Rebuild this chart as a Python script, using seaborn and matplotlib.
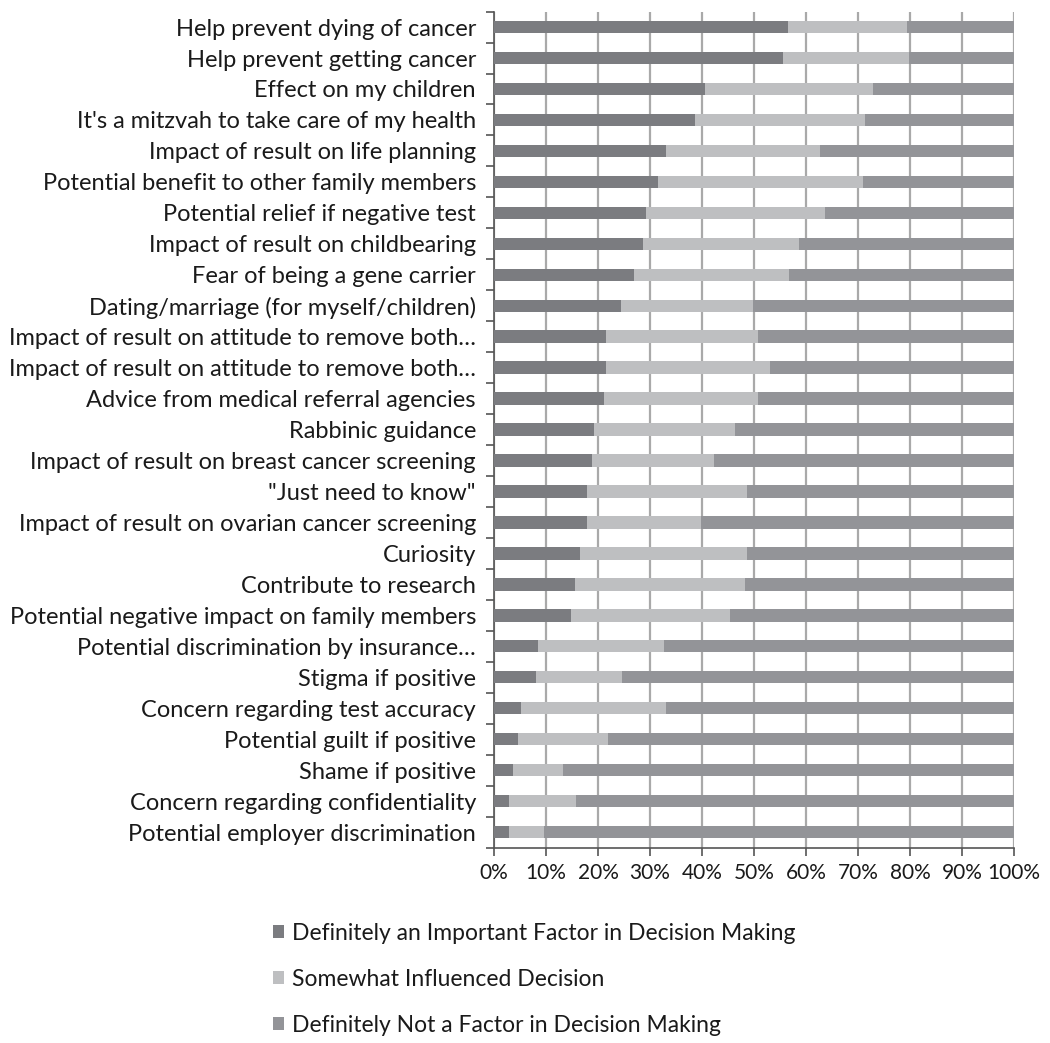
import numpy as np
import pandas as pd
import matplotlib
matplotlib.use("Agg")
import matplotlib.pyplot as plt
import seaborn as sns
from matplotlib.patches import Patch

categories = [
    "Help prevent dying of cancer",
    "Help prevent getting cancer",
    "Effect on my children",
    "It's a mitzvah to take care of my health",
    "Impact of result on life planning",
    "Potential benefit to other family members",
    "Potential relief if negative test",
    "Impact of result on childbearing",
    "Fear of being a gene carrier",
    "Dating/marriage (for myself/children)",
    "Impact of result on attitude to remove both\u2026",
    "Impact of result on attitude to remove both\u2026",
    "Advice from medical referral agencies",
    "Rabbinic guidance",
    "Impact of result on breast cancer screening",
    "\"Just need to know\"",
    "Impact of result on ovarian cancer screening",
    "Curiosity",
    "Contribute to research",
    "Potential negative impact on family members",
    "Potential discrimination by insurance\u2026",
    "Stigma if positive",
    "Concern regarding test accuracy",
    "Potential guilt if positive",
    "Shame if positive",
    "Concern regarding confidentiality",
    "Potential employer discrimination",
]

important = [56.5, 55.6, 40.6, 38.7, 33.0, 31.5, 29.2, 28.7, 26.9, 24.4,
             21.6, 21.6, 21.1, 19.3, 18.8, 17.8, 17.8, 16.5, 15.6, 14.9,
             8.4, 8.1, 5.2, 4.6, 3.7, 2.8, 2.8]
somewhat = [22.9, 24.3, 32.3, 32.6, 29.7, 39.4, 34.5, 29.9, 29.8, 25.4,
            29.1, 31.4, 29.6, 27.1, 23.5, 30.9, 22.0, 32.2, 32.6, 30.5,
            24.3, 16.5, 27.8, 17.3, 9.6, 12.9, 6.8]
not_factor = [round(100 - a - b, 1) for a, b in zip(important, somewhat)]

series_names = [
    "Definitely an Important Factor in Decision Making",
    "Somewhat Influenced Decision",
    "Definitely Not a Factor in Decision Making",
]
colors = ["#7b7c80", "#bebfc1", "#939498"]

n = len(categories)
df = pd.DataFrame({
    "row": [str(i) for i in range(n)],
    "category": categories,
    "important": important,
    "somewhat": somewhat,
    "not_factor": not_factor,
})
df["cum1"] = df["important"]
df["cum2"] = df["important"] + df["somewhat"]
df["cum3"] = df["cum2"] + df["not_factor"]

sns.set_theme(style="white")
FONT = ["Lato", "DejaVu Sans"]
plt.rcParams["font.family"] = FONT

fig = plt.figure(figsize=(10.5, 10.43), dpi=100)
ax = fig.add_axes([0.4705, 0.1874, 0.4952, 0.8015])

order = list(df["row"])
for col, c in zip(["cum3", "cum2", "cum1"], colors[::-1]):
    sns.barplot(data=df, y="row", x=col, orient="h", order=order, color=c,
                width=0.4, saturation=1, ax=ax, zorder=3, linewidth=0)

ax.set_yticks(range(n))
ax.set_yticklabels(categories)
ax.set_xlim(0, 100)
ax.set_ylim(n - 0.5, -0.5)
ax.set_xticks(np.arange(0, 101, 10))
ax.set_xticklabels([f"{v}%" for v in range(0, 101, 10)])
ax.set_xlabel("")
ax.set_ylabel("")
ax.grid(axis="x", color="#a9a9a9", linewidth=1.6, zorder=0)
ax.set_axisbelow(True)

for s in ["top", "right"]:
    ax.spines[s].set_visible(False)
for s in ["left", "bottom"]:
    ax.spines[s].set_color("#555555")
    ax.spines[s].set_linewidth(1.2)

ax.set_yticks(np.arange(-0.5, n, 1.0), minor=True)
ax.tick_params(axis="y", which="major", length=0, pad=13, labelsize=17,
               labelcolor="#1a1a1a")
ax.tick_params(axis="y", which="minor", left=True, length=6, width=1.2,
               color="#555555", direction="out")
ax.tick_params(axis="x", which="major", bottom=True, length=6, width=1.2,
               color="#555555", direction="out", labelsize=15,
               labelcolor="#1a1a1a", pad=5)

handles = [Patch(facecolor=c, edgecolor="none") for c in colors]
fig.legend(handles, series_names, loc="upper left",
           bbox_to_anchor=(0.26, 0.115), frameon=False, fontsize=16.5,
           borderpad=0, borderaxespad=0,
           labelspacing=1.08, handlelength=0.5, handleheight=0.5,
           handletextpad=0.35, labelcolor="#1a1a1a")

fig.savefig("out.png", dpi=100, facecolor="white")
